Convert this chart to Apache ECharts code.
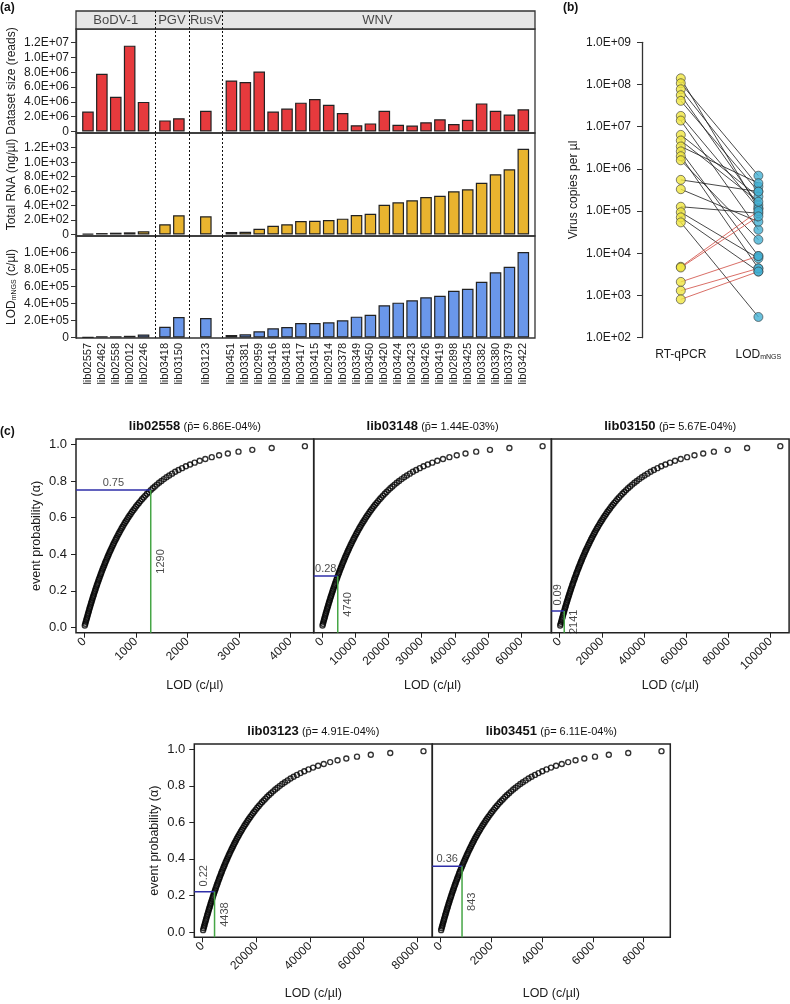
<!DOCTYPE html>
<html><head><meta charset="utf-8">
<script src="https://cdn.jsdelivr.net/npm/echarts/dist/echarts.min.js"></script>
<style>html,body{margin:0;padding:0;background:#fff}#c{width:790px;height:1004px}</style>
</head><body><div id="c"></div>
<script>
// ---------------- DATA ----------------
const libraries = ['lib02557','lib02462','lib02558','lib02012','lib02246','lib03418','lib03150','lib03123','lib03451','lib03381','lib02959','lib03416','lib03418','lib03417','lib03415','lib02914','lib03378','lib03349','lib03450','lib03420','lib03424','lib03423','lib03426','lib03419','lib02898','lib03425','lib03382','lib03380','lib03379','lib03422'];
const virusGroups = ['BoDV-1','PGV','RusV','WNV'];
const groupSizes = [5,2,1,22];
const datasetSize = [2.7e6,7.8e6,4.7e6,11.6e6,4.0e6,1.5e6,1.8e6,2.8e6,6.9e6,6.7e6,8.1e6,2.7e6,3.1e6,3.9e6,4.4e6,3.6e6,2.5e6,0.85e6,1.1e6,2.8e6,0.9e6,0.8e6,1.25e6,1.65e6,1.0e6,1.6e6,3.8e6,2.8e6,2.3e6,3.0e6];
const totalRNA = [10,20,25,30,45,141,266,252,35,39,80,122,141,187,191,200,219,270,288,412,445,473,519,537,597,625,716,833,902,1187];
const lodMNGS = [3e3,1.5e4,1.5e4,2e4,3.6e4,1.27e5,2.41e5,2.29e5,2.9e4,3.7e4,7.3e4,1.08e5,1.24e5,1.71e5,1.71e5,1.78e5,2.02e5,2.45e5,2.68e5,3.79e5,4.1e5,4.37e5,4.73e5,4.92e5,5.5e5,5.74e5,6.56e5,7.67e5,8.33e5,1.006e6];
const ticksDataset = [0,2e6,4e6,6e6,8e6,1e7,1.2e7];
const ticksRNA = [0,200,400,600,800,1000,1200];
const ticksLOD = [0,2e5,4e5,6e5,8e5,1e6];

// panel b: paired copies per µl
const rtqpcrCopies = [1.4e8,1.07e8,7.7e7,5.6e7,4.1e7,1.8e7,1.4e7,6.4e6,4.7e6,3.4e6,2.6e6,2.0e6,1.6e6,5.5e5,3.3e5,1.27e5,9.4e4,7.1e4,5.4e4,4.8e3,4.6e3,2.1e3,1.3e3,8.1e2];
const lodCopies = [1.16e5,6.9e5,3.8e5,1.39e5,2.9e5,1.16e5,3.6e4,2.2e5,1.67e5,4.6e5,8.6e3,4.4e3,2.1e4,2.9e5,5.6e4,8.9e4,7.6e3,3.7e3,3.1e2,1.0e5,7.5e4,8.6e3,4.4e3,3.7e3];
const logTicks = [1e2,1e3,1e4,1e5,1e6,1e7,1e8,1e9];

// panel c
const alpha = [0.01,0.02,0.03,0.04,0.05,0.06,0.07,0.08,0.09,0.10,0.11,0.12,0.13,0.14,0.15,0.16,0.17,0.18,0.19,0.20,0.21,0.22,0.23,0.24,0.25,0.26,0.27,0.28,0.29,0.30,0.31,0.32,0.33,0.34,0.35,0.36,0.37,0.38,0.39,0.40,0.41,0.42,0.43,0.44,0.45,0.46,0.47,0.48,0.49,0.50,0.51,0.52,0.53,0.54,0.55,0.56,0.57,0.58,0.59,0.60,0.61,0.62,0.63,0.64,0.65,0.66,0.67,0.68,0.69,0.70,0.71,0.72,0.73,0.74,0.75,0.76,0.77,0.78,0.79,0.80,0.81,0.82,0.83,0.84,0.85,0.86,0.87,0.88,0.89,0.90,0.91,0.92,0.93,0.94,0.95,0.96,0.97,0.98,0.99];
const lod_lib02558 = [9,19,28,38,48,58,68,78,88,98,108,119,130,140,151,162,173,185,196,208,219,231,243,255,268,280,293,306,319,332,345,359,373,387,401,415,430,445,460,475,491,507,523,540,556,573,591,609,627,645,664,683,703,723,743,764,785,807,830,853,876,900,925,951,977,1004,1032,1060,1090,1120,1152,1185,1218,1254,1290,1328,1368,1409,1452,1498,1545,1596,1649,1705,1765,1830,1899,1973,2054,2143,2241,2350,2475,2618,2788,2995,3263,3640,4285];
const lod_lib03148 = [145,292,439,589,740,893,1047,1203,1361,1520,1681,1845,2009,2176,2345,2516,2689,2863,3040,3220,3401,3585,3771,3960,4151,4345,4541,4740,4942,5146,5354,5565,5778,5995,6216,6440,6667,6898,7132,7371,7613,7860,8111,8366,8626,8891,9161,9435,9716,10001,10293,10590,10894,11204,11522,11846,12178,12517,12865,13221,13586,13961,14346,14741,15148,15566,15997,16441,16899,17372,17861,18368,18892,19437,20003,20592,21206,21847,22519,23223,23963,24743,25568,26442,27374,28369,29438,30593,31849,33224,34744,36444,38370,40595,43225,46445,50596,56447,66448];
const lod_lib03150 = [228,459,691,927,1164,1405,1647,1893,2141,2392,2646,2902,3161,3424,3689,3958,4230,4505,4784,5066,5351,5640,5933,6230,6531,6836,7144,7458,7775,8097,8424,8755,9091,9433,9779,10131,10489,10852,11221,11597,11978,12366,12761,13163,13572,13988,14413,14845,15286,15735,16194,16662,17140,17628,18127,18637,19159,19694,20241,20801,21376,21966,22571,23193,23833,24491,25168,25867,26588,27332,28102,28898,29724,30581,31471,32398,33364,34373,35429,36537,37701,38928,40226,41602,43067,44634,46316,48133,50108,52272,54664,57338,60369,63868,68008,73073,79604,88809,104545];
const lod_lib03123 = [180,361,544,729,916,1105,1296,1489,1685,1882,2082,2283,2487,2694,2903,3114,3328,3545,3764,3986,4210,4438,4669,4902,5139,5378,5621,5868,6118,6371,6628,6889,7153,7422,7695,7972,8253,8539,8829,9124,9425,9730,10041,10357,10679,11006,11340,11680,12027,12381,12742,13110,13486,13870,14263,14664,15075,15495,15926,16367,16819,17283,17759,18249,18752,19270,19803,20353,20920,21505,22111,22738,23387,24061,24762,25491,26251,27045,27876,28748,29664,30630,31651,32734,33886,35119,36442,37872,39426,41129,43011,45115,47500,50253,53510,57496,62634,69877,82258];
const lod_lib03451 = [19,38,58,77,97,117,137,158,178,199,220,241,263,285,307,329,352,375,398,422,445,469,494,518,543,569,594,621,647,674,701,728,756,785,814,843,873,903,934,965,997,1029,1062,1095,1129,1164,1199,1235,1272,1309,1347,1386,1426,1467,1508,1551,1594,1639,1684,1731,1779,1828,1878,1930,1983,2038,2094,2152,2212,2274,2338,2405,2473,2545,2619,2696,2776,2860,2948,3040,3137,3239,3347,3462,3583,3714,3854,4005,4169,4349,4548,4771,5023,5314,5659,6080,6624,7389,8699];
const curveLibs = ['lib02558','lib03148','lib03150','lib03123','lib03451'];
const curvePbar = ['6.86E-04%','1.44E-03%','5.67E-04%','4.91E-04%','6.11E-04%'];
const curveLod = [lod_lib02558, lod_lib03148, lod_lib03150, lod_lib03123, lod_lib03451];
const markAlpha = [0.75,0.28,0.09,0.22,0.36];
const markLod = [1290,4740,2141,4438,843];
const curveXTicks = [[0,1000,2000,3000,4000],[0,10000,20000,30000,40000,50000,60000],[0,20000,40000,60000,80000,100000],[0,20000,40000,60000,80000],[0,2000,4000,6000,8000]];
const probTicks = [0,0.2,0.4,0.6,0.8,1.0];

// ---------------- LAYOUT / STYLE ----------------
const F = 'Liberation Sans, Arial, Helvetica, sans-serif';
const TXT = '#1a1a1a';
const A = {left:76, width:459, rows:[[29,133],[133,236],[236,338]], header:[11,29]};
const slotMin = -0.86, slotMax = 32.16;
const groupExtraGap = [0,0.54,0.94,0.84];
const sepOffsets = [0.82,0.75,1.21];   // separator distance after the last bar of each group (slot units)
const rowRanges = [[-0.2e6,13.85e6],[-20.7,1403.9],[-5.9e3,1.194e6]];
const barColors = ['#E63A3D','#E9B42F','#6A97EA'];
const B = {left:642, width:155.2, top:42.3, height:295.4};
const Cg = [
  {left:76,top:439,w:237.7,h:193.7},{left:313.7,top:439,w:237.7,h:193.7},{left:551.4,top:439,w:237.7,h:193.7},
  {left:194.3,top:744,w:238,h:193.3},{left:432.3,top:744,w:238,h:193.3}];
const yLeftPanels = [0,3];

function sci(v){
  if (Math.abs(v) < 1e-12) return '0';
  const e = Math.floor(Math.log10(Math.abs(v)) + 1e-9);
  const m = v / Math.pow(10, e);
  return m.toFixed(1) + 'E' + (e < 0 ? '-' : '+') + String(Math.abs(e)).padStart(2,'0');
}

// bar positions (slot units)
const xPos = []; let p = 0;
groupSizes.forEach((n,g)=>{ p += groupExtraGap[g]; for(let k=0;k<n;k++){ xPos.push(p); p += 1; } });
const groupStart = []; let s0 = 0; groupSizes.forEach(n=>{ groupStart.push(s0); s0 += n; });
const seps = []; for (let g=1; g<groupSizes.length; g++){ seps.push(xPos[groupStart[g]-1] + sepOffsets[g-1]); }
const groupCenters = groupSizes.map((n,g)=> (xPos[groupStart[g]] + xPos[groupStart[g]+n-1])/2);
function nearestLib(v){ let bi=0, bd=1e9; xPos.forEach((x,i)=>{ const d=Math.abs(x-v); if(d<bd){bd=d;bi=i;} }); return libraries[bi]; }

const grids=[], xAxes=[], yAxes=[], series=[], graphics=[];
const sepLine = {silent:true, symbol:['none','none'], label:{show:false}, lineStyle:{type:[2,2], color:'#111', width:1}, data: seps.map(s=>({xAxis:s}))};
const rowVals = [datasetSize,totalRNA,lodMNGS];
const rowTicks = [ticksDataset,ticksRNA,ticksLOD];
const rowNames = ['Dataset size (reads)','Total RNA (ng/µl)','LOD{sub|mNGS} (c/µl)'];

A.rows.forEach((r,i)=>{
  grids.push({left:A.left, width:A.width, top:r[0], height:r[1]-r[0], show:true, borderColor:'#333', borderWidth:1.3, outerBoundsMode:'none'});
  xAxes.push({gridIndex:i, type:'value', min:slotMin, max:slotMax, axisLine:{show:false, onZero:false}, axisTick:{show:false}, splitLine:{show:false},
    axisLabel: i===2 ? {show:true, customValues:xPos, formatter:v=>nearestLib(v), rotate:90, fontSize:11, color:TXT, margin:5, fontFamily:F, hideOverlap:false} : {show:false}});
  yAxes.push({gridIndex:i, type:'value', min:rowRanges[i][0], max:rowRanges[i][1], splitLine:{show:false},
    axisLine:{show:true, onZero:false, lineStyle:{color:'#333', width:1.3}},
    axisTick:{show:true, length:5, customValues:rowTicks[i], lineStyle:{color:'#333', width:1}},
    axisLabel:{customValues:rowTicks[i], formatter:v=>sci(v), fontSize:12, color:TXT, margin:7, fontFamily:F, hideOverlap:false},
    name:rowNames[i], nameLocation:'middle', nameGap:58, nameMoveOverlap:false,
    nameTextStyle:{fontSize:12, color:TXT, fontFamily:F, rich:{sub:{fontSize:7, verticalAlign:'bottom', color:TXT, fontFamily:F}}}});
  series.push({type:'bar', xAxisIndex:i, yAxisIndex:i, data:xPos.map((x,k)=>[x,rowVals[i][k]]), barWidth:11.6,
    itemStyle:{color:barColors[i], borderColor:'#222', borderWidth:1.2}, markLine:sepLine, silent:true});
});
// header strip
grids.push({left:A.left, width:A.width, top:A.header[0], height:A.header[1]-A.header[0], show:true, backgroundColor:'#E6E6E6', borderColor:'#333', borderWidth:1.3, outerBoundsMode:'none'});
xAxes.push({gridIndex:3, type:'value', min:slotMin, max:slotMax, show:false, axisLine:{onZero:false}});
yAxes.push({gridIndex:3, type:'value', min:0, max:1, show:false, axisLine:{onZero:false}});
series.push({type:'scatter', xAxisIndex:3, yAxisIndex:3, symbolSize:1, itemStyle:{color:'rgba(0,0,0,0)'}, silent:true,
  data: virusGroups.map((g,i)=>[groupCenters[i],0.5,g]),
  label:{show:true, position:'inside', formatter:pp=>pp.data[2], fontSize:13, color:TXT, fontFamily:F},
  markLine:sepLine});

// panel b
grids.push({left:B.left, width:B.width, top:B.top, height:B.height, outerBoundsMode:'none'});
xAxes.push({gridIndex:4, type:'category', data:['RT-qPCR','LOD{sub|mNGS}'], boundaryGap:true, axisLine:{show:false, onZero:false}, axisTick:{show:false},
  axisLabel:{interval:0, hideOverlap:false, fontSize:12, color:TXT, margin:11, fontFamily:F, rich:{sub:{fontSize:7, verticalAlign:'bottom', color:TXT, fontFamily:F}}}});
yAxes.push({gridIndex:4, type:'log', logBase:10, min:1e2, max:1e9, splitLine:{show:false},
  axisLine:{show:true, onZero:false, lineStyle:{color:'#333', width:1.3}},
  axisTick:{show:true, length:5, customValues:logTicks, lineStyle:{color:'#333'}},
  axisLabel:{customValues:logTicks, formatter:v=>sci(v), fontSize:12, color:TXT, margin:11, fontFamily:F, hideOverlap:false},
  name:'Virus copies per µl', nameLocation:'middle', nameGap:62, nameMoveOverlap:false, nameTextStyle:{fontSize:12, color:TXT, fontFamily:F}});
rtqpcrCopies.forEach((v,k)=>{
  series.push({type:'line', xAxisIndex:4, yAxisIndex:4, data:[[0,v],[1,lodCopies[k]]], symbol:'none', silent:true, z:2,
    lineStyle:{color: v < lodCopies[k] ? '#CF4A40' : '#1a1a1a', width:0.8}});
});
series.push({type:'scatter', xAxisIndex:4, yAxisIndex:4, data:rtqpcrCopies.map(v=>[0,v]), symbolSize:9, z:4, silent:true,
  itemStyle:{color:'#EFE53F', borderColor:'#3a3a3a', borderWidth:0.8}});
series.push({type:'scatter', xAxisIndex:4, yAxisIndex:4, data:lodCopies.map(v=>[1,v]), symbolSize:9, z:4, silent:true,
  itemStyle:{color:'#44B0D3', borderColor:'#3a3a3a', borderWidth:0.8}});

// panel c
curveLibs.forEach((lib,j)=>{
  const gi = 5+j, c = Cg[j], arr = curveLod[j];
  const lo = Math.min(...arr), hi = Math.max(...arr), pad = 0.04*(hi-lo);
  const xmin = lo-pad, xmax = hi+pad;
  const alo = Math.min(...alpha), ahi = Math.max(...alpha), apad = 0.04*(ahi-alo);
  const ymin = alo-apad, ymax = ahi+apad;
  const isLeft = yLeftPanels.includes(j);
  grids.push({left:c.left, width:c.w, top:c.top, height:c.h, show:true, borderColor:'#222', borderWidth:1.5, outerBoundsMode:'none'});
  xAxes.push({gridIndex:gi, type:'value', min:xmin, max:xmax, splitLine:{show:false}, axisLine:{show:false, onZero:false},
    axisTick:{show:true, length:5, customValues:curveXTicks[j], lineStyle:{color:'#222', width:1}},
    axisLabel:{customValues:curveXTicks[j], formatter:v=>String(Math.round(v)), rotate:45, fontSize:12, color:TXT, margin:7, fontFamily:F, hideOverlap:false},
    name:'LOD (c/µl)', nameLocation:'middle', nameGap:j<3?46:50, nameMoveOverlap:false, nameTextStyle:{fontSize:12.5, color:TXT, fontFamily:F}});
  yAxes.push({gridIndex:gi, type:'value', min:ymin, max:ymax, splitLine:{show:false}, axisLine:{show:false, onZero:false},
    axisTick:{show:isLeft, length:5, customValues:probTicks, lineStyle:{color:'#222'}},
    axisLabel:{show:isLeft, customValues:probTicks, formatter:v=>v.toFixed(1), fontSize:13, color:TXT, margin:9, fontFamily:F},
    name:isLeft?'event probability (α)':'', nameLocation:'middle', nameGap:33, nameMoveOverlap:false, nameTextStyle:{fontSize:12.5, color:TXT, fontFamily:F}});
  series.push({type:'scatter', xAxisIndex:gi, yAxisIndex:gi, data:arr.map((x,i)=>[x,alpha[i]]), symbol:'circle', symbolSize:5, silent:true,
    itemStyle:{color:'rgba(0,0,0,0)', borderColor:'#000', borderWidth:1.4}});
  const a = markAlpha[j], L = markLod[j];
  series.push({type:'line', xAxisIndex:gi, yAxisIndex:gi, data:[[xmin,a],[L,a]], symbol:'none', silent:true, z:3, lineStyle:{color:'#2E2EA8', width:1.5}});
  series.push({type:'line', xAxisIndex:gi, yAxisIndex:gi, data:[[L,a],[L,ymin]], symbol:'none', silent:true, z:3, lineStyle:{color:'#46A646', width:1.5}});
  const pxX = (xmax-xmin)/c.w, pxY = (ymax-ymin)/c.h;
  const lineLen = (L-xmin)/pxX;
  const rot = lineLen < 22;
  series.push({type:'scatter', xAxisIndex:gi, yAxisIndex:gi, symbolSize:1, itemStyle:{color:'rgba(0,0,0,0)'}, silent:true, z:5,
    data:[[ (xmin+L)/2, rot ? a + 16*pxY : a ]],
    label:{show:true, formatter:a.toFixed(2), position: rot?'inside':'top', distance:1, rotate: rot?90:0, fontSize:11, color:TXT, fontFamily:F}});
  series.push({type:'scatter', xAxisIndex:gi, yAxisIndex:gi, symbolSize:1, itemStyle:{color:'rgba(0,0,0,0)'}, silent:true, z:5,
    data:[[ L + 10*pxX, (a+ymin)/2 ]],
    label:{show:true, formatter:String(L), position:'inside', rotate:90, fontSize:11, color:TXT, fontFamily:F}});
  graphics.push({type:'text', x:c.left + c.w/2, y:c.top - 12.5, style:{
    text:'{b|'+lib+'} {n|(p\u0304= '+curvePbar[j]+')}', align:'center', verticalAlign:'middle',
    rich:{b:{fontWeight:'bold', fontSize:13, fontFamily:F, fill:'#111'}, n:{fontSize:11, fontFamily:F, fill:'#111'}}}});
});

graphics.push({type:'text', x:0, y:8, style:{text:'(a)', font:'bold 12px '+F, fill:'#111', verticalAlign:'middle'}});
graphics.push({type:'text', x:563, y:8, style:{text:'(b)', font:'bold 12px '+F, fill:'#111', verticalAlign:'middle'}});
graphics.push({type:'text', x:0, y:432, style:{text:'(c)', font:'bold 12px '+F, fill:'#111', verticalAlign:'middle'}});

const chart = echarts.init(document.getElementById('c'));
chart.setOption({animation:false, backgroundColor:'#fff', textStyle:{fontFamily:F},
  grid:grids, xAxis:xAxes, yAxis:yAxes, series:series, graphic:graphics});
</script></body></html>
